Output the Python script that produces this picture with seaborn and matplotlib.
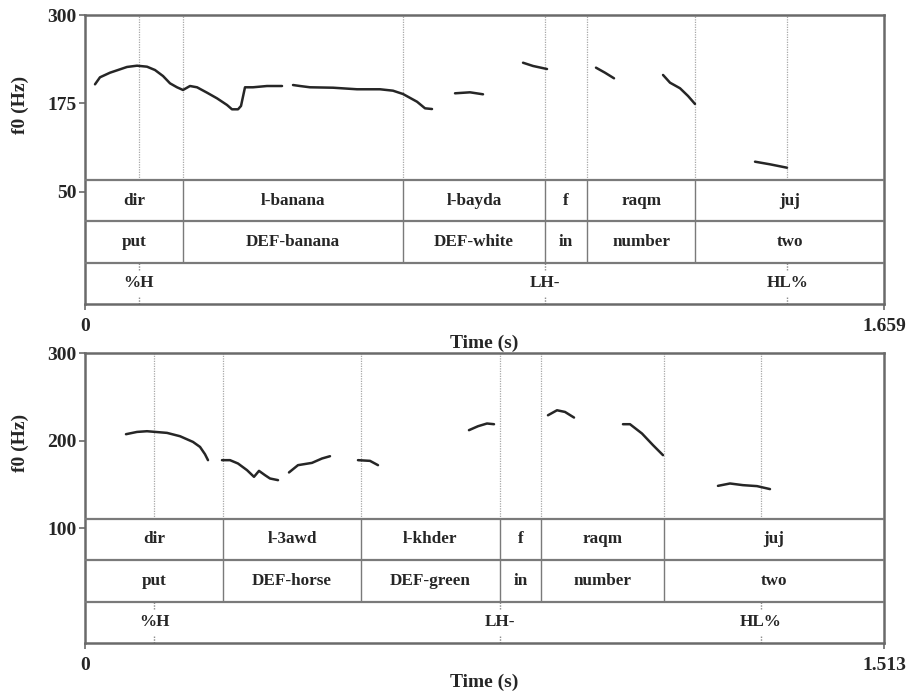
import numpy as np
import pandas as pd
import matplotlib
matplotlib.use("Agg")
import matplotlib.pyplot as plt
import seaborn as sns

sns.set_style("white")
plt.rcParams['font.family'] = ['Liberation Serif', 'DejaVu Serif']

# ---------------- data: panel 1 ----------------
top_dur = 1.659
top_yticks = [50, 175, 300]
top_words = ['dir', 'l-banana', 'l-bayda', 'f', 'raqm', 'juj']
top_gloss = ['put', 'DEF-banana', 'DEF-white', 'in', 'number', 'two']
top_bounds = [0, 0.2035, 0.660, 0.955, 1.042, 1.267, 1.659]
top_tones = ['%H', 'LH-', 'HL%']
top_tone_t = [0.112, 0.955, 1.458]

top_t = [0.0208, 0.0311, 0.0519, 0.0685, 0.0872, 0.1080, 0.1287, 0.1453, 0.1620, 0.1765,
         0.1910, 0.2035, 0.2180, 0.2326, 0.2533, 0.2741, 0.2949, 0.3052, 0.3177, 0.3239,
         0.3322, 0.3488, 0.3779, 0.4091,
         0.4319, 0.4464, 0.4672, 0.5150, 0.5648, 0.6125, 0.6395, 0.6603, 0.6894, 0.7060, 0.7205,
         0.7683, 0.7994, 0.8264,
         0.9095, 0.9302, 0.9593,
         1.0610, 1.0797, 1.0984,
         1.2002, 1.2147, 1.2355, 1.2521, 1.2666,
         1.3912, 1.4223, 1.4576]
top_f0 = [202.1, 212.0, 218.5, 222.3, 226.6, 228.4, 227.0, 222.3, 213.8, 203.5,
          197.9, 194.1, 199.7, 197.9, 190.3, 182.3, 172.9, 166.8, 166.8, 171.5,
          197.9, 197.9, 199.7, 199.7,
          201.1, 199.7, 197.9, 197.3, 195.1, 195.1, 193.1, 188.4, 177.5, 168.2, 167.2,
          189.4, 190.8, 188.0,
          232.6, 228.0, 223.7,
          225.6, 218.5, 210.6,
          215.3, 204.4, 196.5, 185.6, 174.3,
          92.8, 89.1, 84.3]
top_seg = [1] * 24 + [2] * 11 + [3] * 3 + [4] * 3 + [5] * 3 + [6] * 5 + [7] * 3

# ---------------- data: panel 2 ----------------
bot_dur = 1.513
bot_yticks = [100, 200, 300]
bot_words = ['dir', 'l-3awd', 'l-khder', 'f', 'raqm', 'juj']
bot_gloss = ['put', 'DEF-horse', 'DEF-green', 'in', 'number', 'two']
bot_bounds = [0, 0.2613, 0.5226, 0.7858, 0.8635, 1.0964, 1.513]
bot_tones = ['%H', 'LH-', 'HL%']
bot_tone_t = [0.1307, 0.7858, 1.280]

bot_t = [0.0776, 0.0985, 0.1174, 0.1553, 0.1799, 0.2045, 0.2178, 0.2272, 0.2329,
         0.2594, 0.2746, 0.2897, 0.3068, 0.3200, 0.3295, 0.3408, 0.3503, 0.3655,
         0.3863, 0.4033, 0.4298, 0.4488, 0.4639,
         0.5169, 0.5397, 0.5548,
         0.7271, 0.7442, 0.7612, 0.7745,
         0.8767, 0.8938, 0.9089, 0.9260,
         1.0187, 1.0320, 1.0547, 1.0756, 1.0945,
         1.1986, 1.2214, 1.2460, 1.2725, 1.2971]
bot_f0 = [207.4, 210.0, 210.8, 208.9, 205.1, 198.6, 192.9, 184.6, 177.8,
          177.8, 177.8, 174.0, 166.4, 158.8, 165.6, 160.7, 156.9, 155.0,
          163.8, 172.1, 174.7, 179.7, 182.3,
          177.8, 177.0, 172.1,
          212.0, 216.5, 219.6, 218.8,
          229.0, 234.7, 232.8, 226.4,
          218.8, 218.8, 208.2, 194.9, 183.5,
          148.5, 151.2, 149.3, 148.2, 144.8]
bot_seg = [1] * 9 + [2] * 9 + [3] * 5 + [4] * 3 + [5] * 4 + [6] * 4 + [7] * 5 + [8] * 5

FRAME = '#6a6a6a'
TIER = '#7a7a7a'
DOT = '#a8a8a8'
LINE = '#262626'
FS_TICK = 14
FS_TIER = 12.3

fig = plt.figure(figsize=(9.07, 6.93), dpi=100)
ax1 = fig.add_axes([85 / 907, 1 - 304 / 693, 799 / 907, 289 / 693])
ax2 = fig.add_axes([85 / 907, 1 - 643 / 693, 799 / 907, 290 / 693])


def panel(ax, t, f0, seg, dur, ylim, yticks, bounds, words, gloss, tones, tone_t):
    df = pd.DataFrame({'t': t, 'f0': f0, 'seg': seg})
    sns.lineplot(data=df, x='t', y='f0', units='seg', estimator=None, sort=False,
                 color=LINE, lw=1.8, ax=ax, legend=False, zorder=5)
    ax.set_xlim(0, dur)
    ax.set_ylim(*ylim)
    ax.set_xlabel('')
    ax.set_ylabel('')
    xt = ax.get_xaxis_transform()
    # tier separators
    for f in (3 / 7, 2 / 7, 1 / 7):
        ax.plot([0, 1], [f, f], transform=ax.transAxes, color=TIER, lw=1.6, zorder=3)
    # interval boundaries
    inner = bounds[1:-1]
    ax.vlines(inner, 1 / 7, 3 / 7, transform=xt, color=TIER, lw=1.0, zorder=3)
    # dotted lines in pitch area
    ax.vlines(sorted(set(inner) | set(tone_t)), 3 / 7, 1, transform=xt, color=DOT,
              lw=0.9, linestyles=(0, (1, 1)), zorder=2)
    # point markers in tone tier
    for tt in tone_t:
        ax.vlines(tt, 0, 0.025, transform=xt, color='#888888', lw=1.0, linestyles=(0, (1, 1)))
        ax.vlines(tt, 1 / 7 - 0.025, 1 / 7, transform=xt, color='#888888', lw=1.0,
                  linestyles=(0, (1, 1)))
    # labels
    for a, b, w, g in zip(bounds[:-1], bounds[1:], words, gloss):
        c = (a + b) / 2
        ax.text(c, 5 / 14, w, transform=xt, ha='center', va='center', fontsize=FS_TIER,
                fontweight='bold')
        ax.text(c, 3 / 14, g, transform=xt, ha='center', va='center', fontsize=FS_TIER,
                fontweight='bold')
    for tt, lab in zip(tone_t, tones):
        ax.text(tt, 1 / 14, lab, transform=xt, ha='center', va='center', fontsize=FS_TIER,
                fontweight='bold')
    # axes styling
    for s in ax.spines.values():
        s.set_color(FRAME)
        s.set_linewidth(1.8)
    ax.set_yticks(yticks)
    ax.set_yticklabels([str(v) for v in yticks], fontsize=FS_TICK, fontweight='bold')
    ax.set_xticks([0, dur])
    ax.set_xticklabels(['0', f'{dur:.3f}'], fontsize=FS_TICK, fontweight='bold')
    ax.tick_params(axis='both', direction='out', length=4, width=1.2, color=FRAME,
                   left=True, bottom=True, pad=2)
    ax.tick_params(axis='x', pad=6)
    ax.text(0.5, -39 / 289, 'Time (s)', transform=ax.transAxes, ha='center', va='center',
            fontsize=FS_TICK, fontweight='bold')
    ax.text(-0.0814, 0.69, 'f0 (Hz)', transform=ax.transAxes, ha='center', va='center',
            rotation=90, fontsize=FS_TICK, fontweight='bold')
    ax.grid(False)


panel(ax1, top_t, top_f0, top_seg, top_dur, (-108.2, 300), top_yticks, top_bounds,
      top_words, top_gloss, top_tones, top_tone_t)
panel(ax2, bot_t, bot_f0, bot_seg, bot_dur, (-30.7, 300), bot_yticks, bot_bounds,
      bot_words, bot_gloss, bot_tones, bot_tone_t)

fig.savefig('out.png', dpi=100)
